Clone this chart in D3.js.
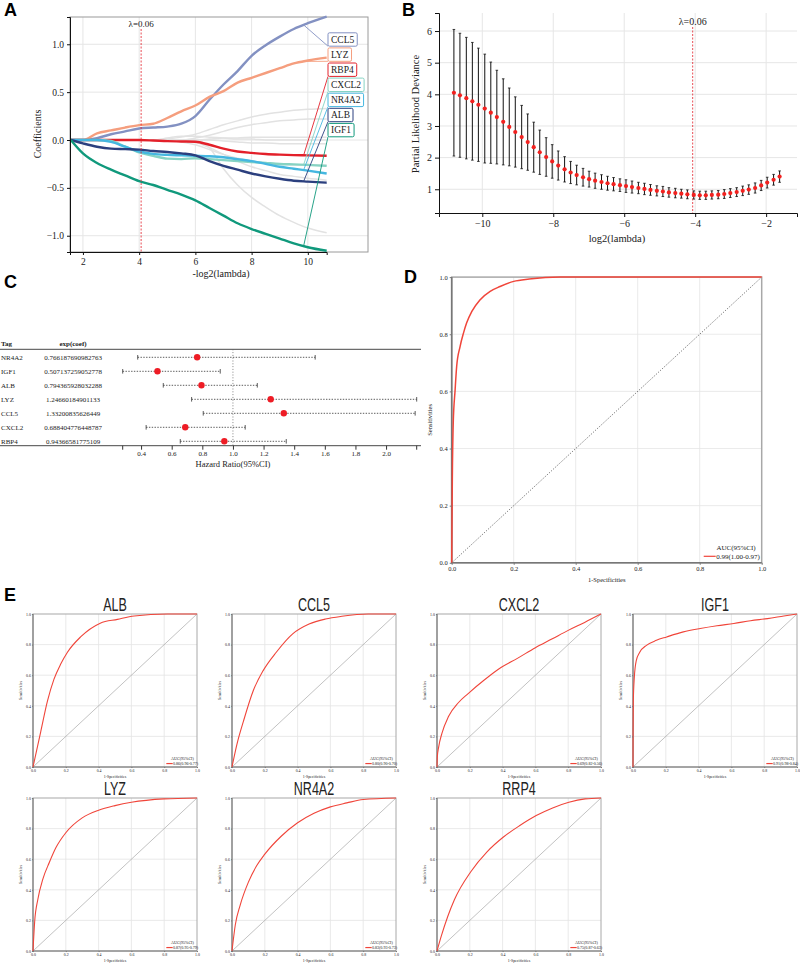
<!DOCTYPE html>
<html>
<head>
<meta charset="utf-8">
<script src="https://cdnjs.cloudflare.com/ajax/libs/d3/7.8.5/d3.min.js"></script>
<style>
  body { margin: 0; background: #fff; }
  svg text { font-family: "Liberation Serif", "Times New Roman", serif; fill: #222; }
  svg text.letter { font-family: "Liberation Sans", Arial, sans-serif; font-weight: bold; font-size: 18px; fill: #000; }
</style>
</head>
<body>
<script>
// ---------- A: lasso coefficient paths ----------
var lassoX = [1.57, 2.0, 2.5, 3.0, 3.5, 4.0, 4.5, 5.0, 5.5, 6.0, 6.5, 7.0, 7.5, 8.0, 8.5, 9.0, 9.5, 10.0, 10.67];
var lassoGenes = ["CCL5", "LYZ", "RBP4", "CXCL2", "NR4A2", "ALB", "IGF1"];
var lassoColors = ["#8391c2", "#f59e7e", "#e3202a", "#86d3c3", "#45b7e0", "#2b3f7e", "#10997c"];
var coefCCL5  = [0, 0, 0.02, 0.06, 0.09, 0.12, 0.13, 0.14, 0.17, 0.25, 0.42, 0.58, 0.72, 0.88, 0.99, 1.08, 1.16, 1.22, 1.29];
var coefLYZ   = [0, 0, 0.07, 0.10, 0.13, 0.155, 0.17, 0.23, 0.30, 0.36, 0.45, 0.51, 0.60, 0.65, 0.70, 0.75, 0.80, 0.83, 0.86];
var coefRBP4  = [0, 0, 0, 0, 0, 0, -0.005, -0.012, -0.015, -0.018, -0.05, -0.09, -0.12, -0.135, -0.146, -0.153, -0.158, -0.161, -0.164];
var coefCXCL2 = [0, 0, 0, -0.01, -0.07, -0.13, -0.165, -0.195, -0.20, -0.19, -0.20, -0.21, -0.22, -0.23, -0.24, -0.25, -0.255, -0.26, -0.27];
var coefNR4A2 = [0, 0, 0, -0.02, -0.07, -0.12, -0.145, -0.155, -0.16, -0.165, -0.17, -0.18, -0.20, -0.22, -0.25, -0.28, -0.30, -0.32, -0.35];
var coefALB   = [0, -0.035, -0.07, -0.09, -0.095, -0.10, -0.115, -0.125, -0.14, -0.16, -0.22, -0.27, -0.31, -0.35, -0.38, -0.405, -0.425, -0.435, -0.446];
var coefIGF1  = [0, -0.14, -0.24, -0.31, -0.37, -0.43, -0.47, -0.52, -0.57, -0.63, -0.71, -0.79, -0.87, -0.93, -0.98, -1.03, -1.08, -1.12, -1.157];
var greyPaths = [
  [0, 0, 0, 0, 0, 0, 0, 0.01, 0.03, 0.06, 0.11, 0.16, 0.20, 0.24, 0.27, 0.29, 0.31, 0.32, 0.33],
  [0, 0, 0, 0, 0, 0, 0, 0, 0, 0.02, 0.05, 0.09, 0.13, 0.16, 0.18, 0.20, 0.21, 0.22, 0.22],
  [0, 0, 0, 0, 0, 0, 0, 0, 0, 0, 0.01, 0.02, 0.02, 0.03, 0.03, 0.03, 0.03, 0.03, 0.03],
  [0, 0, 0, 0, 0, 0, 0, 0, 0, 0, 0, -0.01, -0.02, -0.03, -0.03, -0.04, -0.04, -0.04, -0.04],
  [0, 0, 0, 0, 0, 0, 0, 0, 0, 0, -0.08, -0.30, -0.47, -0.60, -0.70, -0.79, -0.86, -0.92, -0.97],
  [0, 0, 0, 0, 0, 0, 0, 0, -0.02, -0.05, -0.10, -0.15, -0.19, -0.22, -0.24, -0.25, -0.26, -0.26, -0.26],
  [0, 0, 0, 0, 0, 0, 0, 0, 0, -0.02, -0.08, -0.15, -0.22, -0.28, -0.32, -0.36, -0.38, -0.40, -0.42],
  [0, 0, 0, 0, 0, 0, 0, 0.02, 0.04, 0.04, 0.03, 0.02, 0.01, 0.01, 0, 0, 0, 0, 0]
];
var lassoCoefs = [coefCCL5, coefLYZ, coefRBP4, coefCXCL2, coefNR4A2, coefALB, coefIGF1];
var lambdaMinLog = 4.07;

// ---------- B: cross-validation deviance ----------
var cvLog = [-10.80, -10.63, -10.45, -10.28, -10.11, -9.93, -9.76, -9.59, -9.41, -9.24, -9.07, -8.89, -8.72, -8.55, -8.38, -8.20, -8.03, -7.86,
  -7.68, -7.51, -7.34, -7.16, -6.99, -6.82, -6.64, -6.47, -6.30, -6.12, -5.95, -5.78, -5.60, -5.43, -5.26, -5.08, -4.91, -4.74,
  -4.56, -4.39, -4.22, -4.04, -3.87, -3.70, -3.53, -3.35, -3.18, -3.01, -2.83, -2.66, -2.49, -2.31, -2.14, -1.97, -1.79, -1.62];
var cvMean = [4.05, 3.97, 3.88, 3.78, 3.67, 3.55, 3.42, 3.28, 3.13, 2.97, 2.81, 2.65, 2.49, 2.33, 2.17, 2.02, 1.88, 1.75,
  1.63, 1.53, 1.45, 1.38, 1.32, 1.27, 1.23, 1.19, 1.16, 1.13, 1.10, 1.07, 1.04, 1.01, 0.98, 0.95, 0.93, 0.90,
  0.88, 0.86, 0.84, 0.82, 0.81, 0.81, 0.82, 0.83, 0.85, 0.88, 0.91, 0.95, 0.99, 1.04, 1.12, 1.21, 1.30, 1.40];
var cvSd = [2.00, 1.96, 1.92, 1.86, 1.79, 1.72, 1.60, 1.48, 1.36, 1.23, 1.11, 1.00, 0.89, 0.79, 0.70, 0.61, 0.53, 0.46,
  0.40, 0.35, 0.31, 0.28, 0.25, 0.24, 0.23, 0.22, 0.21, 0.20, 0.20, 0.19, 0.18, 0.18, 0.17, 0.16, 0.16, 0.15,
  0.15, 0.14, 0.14, 0.13, 0.13, 0.13, 0.13, 0.13, 0.14, 0.14, 0.14, 0.15, 0.15, 0.16, 0.16, 0.17, 0.17, 0.18];

// ---------- C: cox forest ----------
var coxGenes = ["NR4A2", "IGF1", "ALB", "LYZ", "CCL5", "CXCL2", "RBP4"];
var coxHR = ["0.766187690982763", "0.507137259052778", "0.794365928032288", "1.24660184901133", "1.33200835626449", "0.688404776448787", "0.94366581775109"];
var coxLow = [0.378, 0.28, 0.545, 0.73, 0.806, 0.433, 0.656];
var coxHigh = [1.537, 0.917, 1.159, 2.20, 2.19, 1.08, 1.348];
var hrTicks = [0.4, 0.6, 0.8, 1.0, 1.2, 1.4, 1.6, 1.8, 2.0];

// ---------- D: combined ROC ----------
var rocAllFpr = [0, 0.002, 0.005, 0.011, 0.016, 0.027, 0.038, 0.048, 0.065, 0.091, 0.124, 0.156, 0.2, 0.25, 0.35, 1];
var rocAllTpr = [0, 0.29, 0.49, 0.605, 0.687, 0.757, 0.804, 0.839, 0.88, 0.92, 0.95, 0.967, 0.985, 0.993, 1, 1];
var rocAllAuc = "0.99(1.00-0.97)";

// ---------- E: single-gene ROC ----------
var rocGenes = ["ALB", "CCL5", "CXCL2", "IGF1", "LYZ", "NR4A2", "RRP4"];
var rocAuc = ["0.86(0.96-0.77)", "0.80(0.90-0.70)", "0.69(0.82-0.56)", "0.91(0.98-0.84)", "0.87(0.95-0.79)", "0.83(0.93-0.73)", "0.75(0.87-0.63)"];
var rocFpr = [
  [0, 0.047, 0.088, 0.128, 0.169, 0.21, 0.29, 0.41, 0.515, 0.617, 0.82, 1],
  [0, 0.03, 0.07, 0.13, 0.19, 0.27, 0.37, 0.47, 0.57, 0.67, 0.83, 1],
  [0, 0.002, 0.01, 0.03, 0.07, 0.13, 0.19, 0.29, 0.39, 0.49, 0.6, 0.7, 0.8, 0.9, 1],
  [0, 0.0005, 0.002, 0.008, 0.02, 0.041, 0.082, 0.143, 0.205, 0.307, 0.41, 0.512, 0.615, 0.717, 0.82, 0.92, 1],
  [0, 0.01, 0.03, 0.06, 0.1, 0.14, 0.2, 0.3, 0.4, 0.5, 0.6, 0.8, 1],
  [0, 0.02, 0.05, 0.1, 0.15, 0.2, 0.3, 0.4, 0.5, 0.6, 0.7, 0.8, 1],
  [0, 0.026, 0.066, 0.106, 0.206, 0.305, 0.405, 0.505, 0.605, 0.705, 0.804, 0.904, 1]
];
var rocTpr = [
  [0, 0.23, 0.43, 0.574, 0.673, 0.75, 0.85, 0.94, 0.965, 0.987, 1, 1],
  [0, 0.148, 0.30, 0.50, 0.63, 0.75, 0.87, 0.934, 0.967, 0.985, 1, 1],
  [0, 0.066, 0.13, 0.22, 0.33, 0.42, 0.48, 0.57, 0.65, 0.71, 0.78, 0.836, 0.893, 0.945, 1],
  [0, 0.23, 0.43, 0.585, 0.695, 0.75, 0.795, 0.828, 0.85, 0.883, 0.905, 0.923, 0.938, 0.956, 0.97, 0.987, 1],
  [0, 0.19, 0.34, 0.47, 0.58, 0.676, 0.773, 0.87, 0.92, 0.95, 0.972, 0.994, 1],
  [0, 0.17, 0.30, 0.45, 0.557, 0.633, 0.75, 0.838, 0.90, 0.942, 0.968, 0.99, 1],
  [0, 0.097, 0.227, 0.335, 0.518, 0.648, 0.745, 0.82, 0.885, 0.935, 0.972, 0.994, 1]
];

var svg = d3.select("body").append("svg").attr("width", 800).attr("height", 964);
var serif = "Liberation Serif, Times New Roman, serif";

function styleAxis(g, fs, col) {
  g.attr("font-family", serif).attr("font-size", fs);
  g.selectAll("path.domain").attr("stroke", col);
  g.selectAll(".tick line").attr("stroke", col);
  g.selectAll(".tick text").attr("fill", "#222");
}

// panel letters
[["A", 4, 16], ["B", 402, 16], ["C", 4, 288], ["D", 404, 283], ["E", 4, 601]].forEach(function (l) {
  svg.append("text").attr("class", "letter").attr("x", l[1]).attr("y", l[2]).text(l[0]);
});

// ================= A =================
var aX = d3.scaleLinear().domain([1.54, 12.14]).range([70, 368]);
var aY = d3.scaleLinear().domain([-1.17, 1.285]).range([252, 17]);
var pa = svg.append("g");

pa.selectAll(".gx").data([2, 4, 6, 8, 10]).join("line")
  .attr("x1", function (d) { return aX(d); }).attr("x2", function (d) { return aX(d); })
  .attr("y1", aY.range()[1]).attr("y2", aY.range()[0]).attr("stroke", "#e6e6e6");
pa.selectAll(".gy").data([-1, -0.5, 0, 0.5, 1]).join("line")
  .attr("x1", aX.range()[0]).attr("x2", aX.range()[1])
  .attr("y1", function (d) { return aY(d); }).attr("y2", function (d) { return aY(d); }).attr("stroke", "#e6e6e6");
pa.append("rect").attr("x", 70).attr("y", 17).attr("width", 298).attr("height", 235)
  .attr("fill", "none").attr("stroke", "#9a9a9a");

var aLine = d3.line().x(function (d, i) { return aX(lassoX[i]); }).y(function (d) { return aY(d); }).curve(d3.curveMonotoneX);
pa.selectAll(".grey").data(greyPaths).join("path")
  .attr("d", aLine).attr("fill", "none").attr("stroke", "#e2e2e2").attr("stroke-width", 1.5);
pa.selectAll(".coef").data(lassoCoefs).join("path")
  .attr("d", aLine).attr("fill", "none")
  .attr("stroke", function (d, i) { return lassoColors[i]; }).attr("stroke-width", 2.4);

// lambda line
pa.append("line").attr("x1", aX(lambdaMinLog)).attr("x2", aX(lambdaMinLog)).attr("y1", 29).attr("y2", 252)
  .attr("stroke", "#e3202a").attr("stroke-width", 0.8).attr("stroke-dasharray", "2,1.5");
pa.append("text").attr("x", aX(lambdaMinLog)).attr("y", 27).attr("text-anchor", "middle").attr("font-size", 9).text("λ=0.06");

// axes
var aBottom = aX.copy().domain([1.54, 10.67]).range([aX(1.54), aX(10.67)]);
var gAx = pa.append("g").attr("transform", "translate(0,252)")
  .call(d3.axisBottom(aBottom).tickValues([2, 4, 6, 8, 10]).tickSize(3).tickSizeOuter(3).tickFormat(d3.format("d")));
styleAxis(gAx, 9.5, "#111");
var gAy = pa.append("g").attr("transform", "translate(70,0)")
  .call(d3.axisLeft(aY).tickValues([-1, -0.5, 0, 0.5, 1]).tickSize(3).tickSizeOuter(3).tickFormat(d3.format(".1f")));
styleAxis(gAy, 9.5, "#111");
pa.append("text").attr("x", 221).attr("y", 277).attr("text-anchor", "middle").attr("font-size", 10).text("-log2(lambda)");
pa.append("text").attr("transform", "translate(41,134) rotate(-90)").attr("text-anchor", "middle").attr("font-size", 10).text("Coefficients");

// labels with leader lines
lassoGenes.forEach(function (name, i) {
  var cy = 39.5 + i * 15.1;
  var vals = lassoCoefs[i];
  var v = vals[16] + (vals[17] - vals[16]) * 0.7;
  pa.append("line").attr("x1", aX(9.85)).attr("y1", aY(v)).attr("x2", 328).attr("y2", cy + 6.7)
    .attr("stroke", lassoColors[i]).attr("stroke-width", 0.9);
  var box = pa.append("rect").attr("x", 328).attr("y", cy - 6.7).attr("height", 13.4)
    .attr("rx", 1.5).attr("fill", "#fff").attr("stroke", lassoColors[i]).attr("stroke-width", 1);
  var t = pa.append("text").attr("x", 331).attr("y", cy + 3.3).attr("font-size", 9.5).attr("fill", "#333").text(name);
  box.attr("width", t.node().getComputedTextLength() + 6);
});

// ================= B =================
var bX = d3.scaleLinear().domain([-11.22, -1.13]).range([439, 797]);
var bY = d3.scaleLinear().domain([0.25, 6.57]).range([213, 13]);
var pb = svg.append("g");
pb.selectAll(".gx").data([-10, -8, -6, -4, -2]).join("line")
  .attr("x1", function (d) { return bX(d); }).attr("x2", function (d) { return bX(d); })
  .attr("y1", 13).attr("y2", 213).attr("stroke", "#e6e6e6");
pb.selectAll(".gy").data([1, 2, 3, 4, 5, 6]).join("line")
  .attr("x1", 439).attr("x2", 797)
  .attr("y1", function (d) { return bY(d); }).attr("y2", function (d) { return bY(d); }).attr("stroke", "#e6e6e6");

pb.selectAll(".bar").data(cvMean).join("line")
  .attr("x1", function (d, i) { return bX(cvLog[i]); }).attr("x2", function (d, i) { return bX(cvLog[i]); })
  .attr("y1", function (d, i) { return bY(d - cvSd[i]); }).attr("y2", function (d, i) { return bY(d + cvSd[i]); })
  .attr("stroke", "#111").attr("stroke-width", 1);
[1, -1].forEach(function (s) {
  pb.selectAll(".cap" + (s > 0 ? "u" : "l")).data(cvMean).join("line")
    .attr("x1", function (d, i) { return bX(cvLog[i]) - 1.3; }).attr("x2", function (d, i) { return bX(cvLog[i]) + 1.3; })
    .attr("y1", function (d, i) { return bY(d + s * cvSd[i]); }).attr("y2", function (d, i) { return bY(d + s * cvSd[i]); })
    .attr("stroke", "#111").attr("stroke-width", 0.8);
});
pb.selectAll(".pt").data(cvMean).join("circle")
  .attr("cx", function (d, i) { return bX(cvLog[i]); }).attr("cy", function (d) { return bY(d); })
  .attr("r", 2.1).attr("fill", "#f2211f");

pb.append("line").attr("x1", bX(-lambdaMinLog)).attr("x2", bX(-lambdaMinLog)).attr("y1", 27).attr("y2", 213)
  .attr("stroke", "#e3202a").attr("stroke-width", 0.8).attr("stroke-dasharray", "2,1.5");
pb.append("text").attr("x", bX(-lambdaMinLog)).attr("y", 25).attr("text-anchor", "middle").attr("font-size", 10).text("λ=0.06");

var gBx = pb.append("g").attr("transform", "translate(0,213)")
  .call(d3.axisBottom(bX).tickValues([-10, -8, -6, -4, -2]).tickSize(4).tickSizeOuter(4).tickFormat(d3.format("d")));
styleAxis(gBx, 10, "#111");
var gBy = pb.append("g").attr("transform", "translate(439,0)")
  .call(d3.axisLeft(bY).tickValues([1, 2, 3, 4, 5, 6]).tickSize(4).tickSizeOuter(4).tickFormat(d3.format("d")));
styleAxis(gBy, 10, "#111");
pb.append("text").attr("x", 617).attr("y", 242).attr("text-anchor", "middle").attr("font-size", 10.5).text("log2(lambda)");
pb.append("text").attr("transform", "translate(419,114) rotate(-90)").attr("text-anchor", "middle").attr("font-size", 10.5).text("Partial Likelihood Deviance");

// ================= C =================
var cX = d3.scaleLinear().domain([0.28, 2.2]).range([122.7, 416.7]);
var pc = svg.append("g");
var rowY = function (i) { return 357.3 + i * 14.0; };
pc.append("text").attr("x", 1).attr("y", 346).attr("font-size", 7).attr("font-weight", "bold").text("Tag");
pc.append("text").attr("x", 73).attr("y", 346).attr("font-size", 7).attr("font-weight", "bold").attr("text-anchor", "middle").text("exp(coef)");
pc.append("line").attr("x1", 0).attr("x2", 421).attr("y1", 349.3).attr("y2", 349.3).attr("stroke", "#333").attr("stroke-width", 0.9);
pc.append("line").attr("x1", 0).attr("x2", 421).attr("y1", 445.7).attr("y2", 445.7).attr("stroke", "#333").attr("stroke-width", 0.9);
pc.append("line").attr("x1", cX(1)).attr("x2", cX(1)).attr("y1", 349.3).attr("y2", 445.7)
  .attr("stroke", "#666").attr("stroke-width", 0.8).attr("stroke-dasharray", "1,1.8");

coxGenes.forEach(function (g, i) {
  var y = rowY(i);
  pc.append("text").attr("x", 1).attr("y", y + 2.5).attr("font-size", 7).text(g);
  pc.append("text").attr("x", 73).attr("y", y + 2.5).attr("font-size", 7).attr("text-anchor", "middle").text(coxHR[i]);
  pc.append("line").attr("x1", cX(coxLow[i])).attr("x2", cX(coxHigh[i])).attr("y1", y).attr("y2", y)
    .attr("stroke", "#333").attr("stroke-width", 0.8).attr("stroke-dasharray", "1.4,1.4");
  [coxLow[i], coxHigh[i]].forEach(function (v) {
    pc.append("line").attr("x1", cX(v)).attr("x2", cX(v)).attr("y1", y - 2.3).attr("y2", y + 2.3)
      .attr("stroke", "#333").attr("stroke-width", 0.8);
  });
  pc.append("circle").attr("cx", cX(+coxHR[i])).attr("cy", y).attr("r", 3.2).attr("fill", "#ee1c25");
});
var gCx = pc.append("g").attr("transform", "translate(0,445.7)")
  .call(d3.axisBottom(cX).tickValues(hrTicks).tickSize(4).tickSizeOuter(4).tickPadding(1.5).tickFormat(d3.format(".1f")));
styleAxis(gCx, 7, "#333");
gCx.select("path.domain").remove();
[0.28, 2.2].forEach(function (v) {
  pc.append("line").attr("x1", cX(v)).attr("x2", cX(v)).attr("y1", 445.7).attr("y2", 449.7).attr("stroke", "#333");
});
pc.append("text").attr("x", cX(1)).attr("y", 467).attr("text-anchor", "middle").attr("font-size", 8.5).text("Hazard Ratio(95%CI)");

// ================= ROC helper =================
function drawRoc(x0, y0, w, h, fpr, tpr, aucText, big) {
  var k = w / 310;
  var x = d3.scaleLinear().domain([0, 1]).range([x0, x0 + w]);
  var y = d3.scaleLinear().domain([0, 1]).range([y0 + h, y0]);
  var g = svg.append("g");
  var grid = [0.2, 0.4, 0.6, 0.8];
  g.selectAll(".gx").data(grid).join("line")
    .attr("x1", function (d) { return x(d); }).attr("x2", function (d) { return x(d); })
    .attr("y1", y0).attr("y2", y0 + h).attr("stroke", "#e4e4e4").attr("stroke-width", 0.8);
  g.selectAll(".gy").data(grid).join("line")
    .attr("x1", x0).attr("x2", x0 + w)
    .attr("y1", function (d) { return y(d); }).attr("y2", function (d) { return y(d); }).attr("stroke", "#e4e4e4").attr("stroke-width", 0.8);
  g.append("line").attr("x1", x(0)).attr("y1", y(0)).attr("x2", x(1)).attr("y2", y(1))
    .attr("stroke", big ? "#333" : "#999").attr("stroke-width", big ? 0.8 : 0.6)
    .attr("stroke-dasharray", big ? "1,1.6" : null);
  g.append("rect").attr("x", x0).attr("y", y0).attr("width", w).attr("height", h)
    .attr("fill", "none").attr("stroke", "#a8a8a8").attr("stroke-width", big ? 1.5 : 1);
  g.append("path").attr("d", "M" + x0 + "," + y0 + "V" + (y0 + h) + "H" + (x0 + w))
    .attr("fill", "none").attr("stroke", "#777").attr("stroke-width", big ? 1.6 : 1.1);
  var line = d3.line().x(function (d) { return x(d[0]); }).y(function (d) { return y(d[1]); }).curve(d3.curveMonotoneX);
  g.append("path").attr("d", line(d3.zip(fpr, tpr))).attr("fill", "none")
    .attr("stroke", "#f0453a").attr("stroke-width", big ? 1.5 : 1.1);

  var fs = 6.5 * Math.max(k, 0.6);
  var ticks = [0, 0.2, 0.4, 0.6, 0.8, 1.0];
  var gx = g.append("g").attr("transform", "translate(0," + (y0 + h) + ")")
    .call(d3.axisBottom(x).tickValues(ticks).tickSize(2 * k).tickSizeOuter(0).tickPadding(2 * k).tickFormat(d3.format(".1f")));
  styleAxis(gx, fs, "#777");
  gx.select("path.domain").remove();
  var gy = g.append("g").attr("transform", "translate(" + x0 + ",0)")
    .call(d3.axisLeft(y).tickValues(ticks).tickSize(2 * k).tickSizeOuter(0).tickPadding(2 * k).tickFormat(d3.format(".1f")));
  styleAxis(gy, fs, "#777");
  gy.select("path.domain").remove();
  g.append("text").attr("x", x(0.5)).attr("y", y0 + h + 17 * k + fs * 0.4).attr("text-anchor", "middle").attr("font-size", fs).text("1-Specificities");
  g.append("text").attr("transform", "translate(" + (x0 - 17 * k - fs * 0.4) + "," + y(0.5) + ") rotate(-90)")
    .attr("text-anchor", "middle").attr("font-size", fs).text("Sensitivities");

  var lfs = 7 * Math.max(k, 0.58);
  g.append("text").attr("x", x0 + w - 6 * k).attr("y", y0 + h - 13 * k).attr("text-anchor", "end").attr("font-size", lfs).text("AUC(95%CI)");
  g.append("line").attr("x1", x0 + w - 58 * k).attr("x2", x0 + w - 46 * k).attr("y1", y0 + h - 6.5 * k).attr("y2", y0 + h - 6.5 * k)
    .attr("stroke", "#f0453a").attr("stroke-width", 1.2);
  g.append("text").attr("x", x0 + w - 45.5 * k).attr("y", y0 + h - 4 * k).attr("font-size", lfs).text(aucText);
}

// ================= D =================
drawRoc(451.7, 277.1, 310, 285.7, rocAllFpr, rocAllTpr, rocAllAuc, true);

// ================= E =================
var eLefts = [33, 232, 437, 633];
var eTops = [614, 798];
rocGenes.forEach(function (name, i) {
  var col = i % 4, row = Math.floor(i / 4);
  var x0 = eLefts[col], y0 = eTops[row], w = 164, h = 153;
  drawRoc(x0, y0, w, h, rocFpr[i], rocTpr[i], rocAuc[i], false);
  svg.append("text").attr("transform", "translate(" + (x0 + w / 2) + "," + (y0 - 3.5) + ") scale(0.66,1)")
    .attr("text-anchor", "middle").style("font-family", "Liberation Sans, Arial, sans-serif")
    .attr("font-size", 19).attr("fill", "#111").text(name);
});
</script>
</body>
</html>
